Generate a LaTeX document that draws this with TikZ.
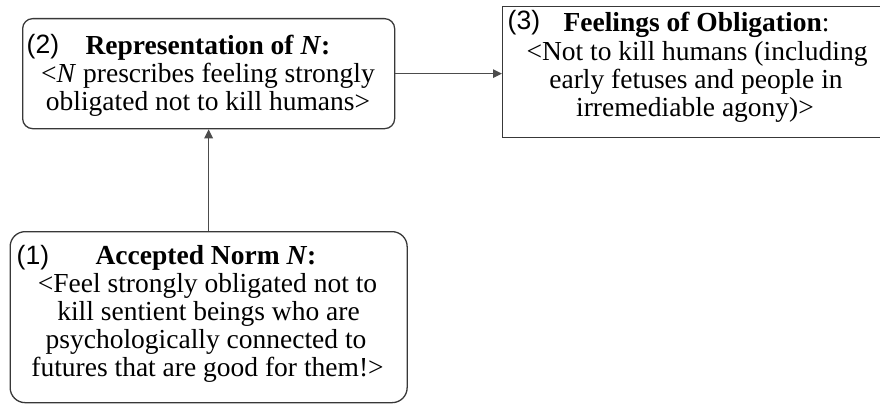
\documentclass[tikz,border=0pt]{standalone}
\usepackage{fontspec}
\setmainfont{Liberation Serif}
\setsansfont{Liberation Sans}
\usetikzlibrary{arrows.meta}

\tikzset{
  box/.style={draw=black!78, line width=1.3pt, inner sep=0pt, anchor=north west},
  roundbox/.style={box, rounded corners=#1},
  conn/.style={draw=black!70, line width=1.3pt, -{Triangle[length=9pt,width=8.5pt]}},
  txt/.style={inner sep=0pt, anchor=base, font=\fontsize{27.5}{28}\selectfont},
  num/.style={inner sep=0pt, anchor=base west, font=\fontsize{26.5}{28}\sffamily},
}

\begin{document}
\begin{tikzpicture}[x=1pt,y=-1pt]
  \useasboundingbox (0,0) rectangle (880,404);

  % boxes
  \node[roundbox=10pt, minimum width=372pt, minimum height=110pt] (rep) at (22,18) {};
  \node[box, minimum width=384pt, minimum height=131pt] (feel) at (502,6) {};
  \node[roundbox=15pt, minimum width=397pt, minimum height=171pt] (norm) at (9.5,231) {};

  % connectors
  \draw[conn] (rep.east) -- (rep.east -| feel.west);
  \draw[conn] (norm.north) -- (norm.north |- rep.south);

  % (2) Representation of N
  \node[num] (repnum) at (26.5,54) {(2)};
  \node[txt] (rep1) at (208,55) {\bfseries Representation of \textit{N}:};
  \node[txt] (rep2) at (208,82) {<\textit{N} prescribes feeling strongly};
  \node[txt] (rep3) at (208,110) {obligated not to kill humans>};

  % (3) Feelings of Obligation
  \node[num] (feelnum) at (507.5,30) {(3)};
  \node[txt] (feel1) at (696.5,32) {\textbf{Feelings of Obligation}:};
  \node[txt] (feel2) at (697,60) {<Not to kill humans (including};
  \node[txt] (feel3) at (696,88) {early fetuses and people in};
  \node[txt] (feel4) at (695,116) {irremediable agony)>};

  % (1) Accepted Norm N
  \node[num] (normnum) at (16.5,264) {(1)};
  \node[txt] (norm1) at (206,264) {\bfseries Accepted Norm \textit{N}:};
  \node[txt] (norm2) at (207.5,292) {<Feel strongly obligated not to};
  \node[txt] (norm3) at (208.5,320) {kill sentient beings who are};
  \node[txt] (norm4) at (206,348) {psychologically connected to};
  \node[txt] (norm5) at (207.5,376) {futures that are good for them!>};
\end{tikzpicture}
\end{document}
